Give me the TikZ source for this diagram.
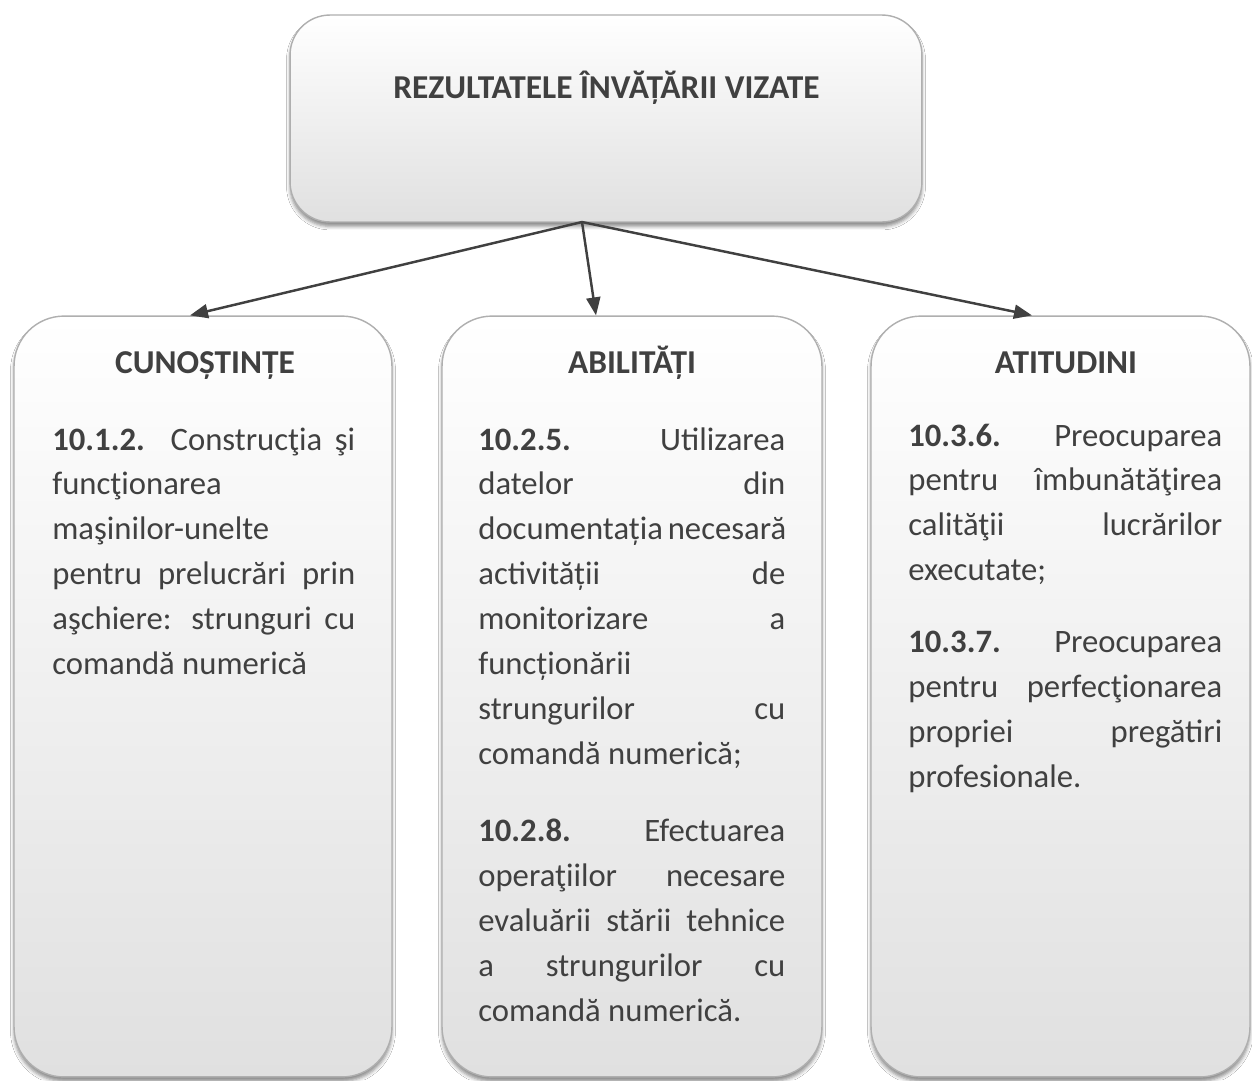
\documentclass[tikz,border=0pt]{standalone}
\usepackage{fontspec}
\setmainfont{Carlito}
\usetikzlibrary{shadows.blur,arrows.meta}
\definecolor{ink}{RGB}{64,64,64}
\definecolor{edge}{RGB}{175,175,175}
\definecolor{fillbot}{RGB}{224,224,224}
\newlength\colw
% one justified line of a column
\newcommand\jl[1]{\makebox[\colw][s]{#1}\\}
\begin{document}
\begin{tikzpicture}[x=0.02cm,y=-0.02cm,
  panel/.style={draw=edge, line width=0.8pt, top color=white, bottom color=fillbot,
    blur shadow={shadow xshift=0pt, shadow yshift=-2.5pt, shadow blur radius=2pt, shadow opacity=45},
    inner sep=0pt},
  head/.style={font=\fontsize{19}{23}\selectfont\bfseries, text=ink, inner sep=0pt, anchor=base},
  body/.style={font=\fontsize{18.6}{25.6}\selectfont, text=ink, inner sep=0pt, anchor=base west},
  link/.style={draw=ink, line width=1.4pt, -{Triangle[length=0.36cm,width=0.28cm]}}]

\useasboundingbox (0,0) rectangle (1252,1080);
\fill[white] (0,0) rectangle (1252,1080);

% panels
\node (top) [panel, rounded corners=0.8cm, minimum width=12.64cm, minimum height=4.14cm] at (606,118.5) {};
\node (kn) [panel, rounded corners=1cm, minimum width=7.56cm, minimum height=15.22cm] at (203,696.5) {};
\node (ab) [panel, rounded corners=1cm, minimum width=7.6cm, minimum height=15.22cm] at (632,696.5) {};
\node (at) [panel, rounded corners=1cm, minimum width=7.58cm, minimum height=15.22cm] at (1060.5,696.5) {};

% titles
\node (title) [head] at (606.5,98) {REZULTATELE ÎNVĂȚĂRII VIZATE};
\node (knh) [head] at (205,373) {CUNOȘTINȚE};
\node (abh) [head] at (632,373) {ABILITĂȚI};
\node (ath) [head] at (1066,373) {ATITUDINI};

% connectors
\coordinate (hub) at (582,222);
\draw[link] (hub) -- ([xshift=-0.26cm]kn.north);
\draw[link] (hub) -- ([xshift=-0.72cm]ab.north);
\draw[link] (hub) -- ([xshift=-0.57cm]at.north);

% column texts
\node (knt) [body] at (52,450) {\parbox[t]{6.06cm}{\setlength\colw{6.06cm}%
\jl{\textbf{10.1.2.} Construcţia şi}
funcţionarea\\
maşinilor-unelte\\
\jl{pentru prelucrări prin}
\jl{aşchiere: strunguri cu}
comandă numerică}};

\node (abt) [body] at (478,450) {\parbox[t]{6.14cm}{\setlength\colw{6.14cm}%
\jl{\textbf{10.2.5.} Utilizarea}
\jl{datelor din}
\jl{documentația necesară}
\jl{activității de}
\jl{monitorizare a}
funcționării\\
\jl{strungurilor cu}
comandă numerică;\\[0.64cm]
\jl{\textbf{10.2.8.} Efectuarea}
\jl{operaţiilor necesare}
\jl{evaluării stării tehnice}
\jl{a strungurilor cu}
comandă numerică.}};

\node (att) [body] at (908,446) {\parbox[t]{6.28cm}{\setlength\colw{6.28cm}%
\jl{\textbf{10.3.6.} Preocuparea}
\jl{pentru îmbunătăţirea}
\jl{calităţii lucrărilor}
executate;\\[0.54cm]
\jl{\textbf{10.3.7.} Preocuparea}
\jl{pentru perfecţionarea}
\jl{propriei pregătiri}
profesionale.}};
\end{tikzpicture}
\end{document}
